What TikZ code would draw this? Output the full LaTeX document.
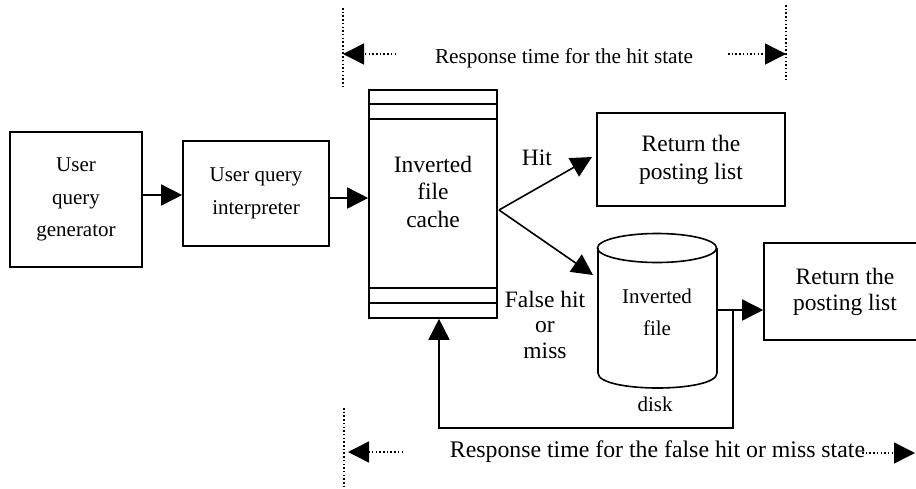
\documentclass[tikz,border=0pt]{standalone}
\usepackage{fontspec}
\setmainfont{Liberation Serif}
\usetikzlibrary{arrows.meta,calc}
\begin{document}
\begin{tikzpicture}[x=1pt,y=-1pt,line width=1.6pt,
  box/.style={draw,rectangle,inner sep=0pt,align=center},
  arr/.style={-{Triangle[length=21pt,width=21pt]}},
  dotl/.style={line width=1.5pt,dash pattern=on 1.5pt off 2.2pt},
  big/.style={font=\fontsize{23.5}{27.5}\selectfont},
  small/.style={font=\fontsize{21}{32.5}\selectfont},
  txt/.style={inner sep=0pt,align=center}]
\useasboundingbox (0,0) rectangle (916,488);
% boxes
\node[box,small,minimum width=132pt,minimum height=135pt] (gen) at (76,199.5) {User\\query\\generator};
\node[box,small,minimum width=146pt,minimum height=105pt] (interp) at (256,193.5) {User query\\interpreter};
\node[box,minimum width=128pt,minimum height=228pt] (cache) at (433,204) {};
\node[txt,big] (cachetxt) at (433,191.5) {Inverted\\file\\cache};
\draw (cache.west |- 0,104) -- (cache.east |- 0,104);
\draw (cache.west |- 0,119) -- (cache.east |- 0,119);
\draw (cache.west |- 0,288) -- (cache.east |- 0,288);
\draw (cache.west |- 0,303) -- (cache.east |- 0,303);
\node[box,font=\fontsize{23.5}{28}\selectfont,minimum width=188pt,minimum height=93pt] (ret1) at (691,159.5) {Return the\\posting list};
\begin{scope}
\clip (0,0) rectangle (916,488);
\node[box,font=\fontsize{23.5}{26}\selectfont,minimum width=162pt,minimum height=97pt] (ret2) at (845,291.5) {Return the\\posting list};
\end{scope}
% cylinder
\draw (657,248) ellipse [x radius=59.5,y radius=14.5];
\draw (598,248) -- (598,373) .. controls (598,393) and (717,393) .. (717,373) -- (717,248);
\node[txt,font=\fontsize{21}{32}\selectfont] (cyl) at (657,312) {Inverted\\file};
\node[txt,font=\fontsize{21}{25}\selectfont,anchor=base] (disk) at (655,411) {disk};
\coordinate (cylin) at (593,275);
\coordinate (cylout) at (717,310);
% labels
\node[txt,big,anchor=base] (hit) at (537,165) {Hit};
\node[txt,font=\fontsize{23.5}{25.5}\selectfont] (miss) at (545,324.5) {False hit\\or\\miss};
% connectors
\draw[arr] (gen.east |- 0,195) -- (interp.west |- 0,195);
\draw[arr] (interp.east |- 0,198) -- (cache.west |- 0,198);
\coordinate (split) at (499,210);
\coordinate (ret1in) at (592,157);
\draw[arr] (split) -- (ret1in);
\draw[arr] (split) -- (cylin);
\draw[arr] (cylout) -- (cylout -| ret2.west);
\coordinate (fb1) at (733,310);
\coordinate (fb2) at (733,428);
\coordinate (fb3) at (439,428);
\draw[arr] (fb1) -- (fb2) -- (fb3) -- (fb3 |- cache.south);
% top response time
\coordinate (tl1) at (343,8); \coordinate (tl2) at (343,87);
\coordinate (tr1) at (786,5); \coordinate (tr2) at (786,80);
\draw[dotl] (tl1) -- (tl2);
\draw[dotl] (tr1) -- (tr2);
\coordinate (tla) at (396,54); \coordinate (tlb) at (343,54);
\coordinate (tra) at (728,54); \coordinate (trb) at (786,54);
\draw[dotl,arr] (tla) -- (tlb);
\draw[dotl,arr] (tra) -- (trb);
\node[txt,font=\fontsize{21.25}{25}\selectfont,anchor=base] (toptxt) at (564,63) {Response time for the hit state};
% bottom response time
\coordinate (bl1) at (344,408); \coordinate (bl2) at (344,488);
\draw[dotl] (bl1) -- (bl2);
\coordinate (bla) at (403,452); \coordinate (blb) at (348,452);
\coordinate (bra) at (862,453); \coordinate (brb) at (915,453);
\draw[dotl,arr] (bla) -- (blb);
\draw[dotl,arr] (bra) -- (brb);
\node[txt,font=\fontsize{23.8}{26}\selectfont,anchor=base] (bottxt) at (657.5,457) {Response time for the false hit or miss state};
\end{tikzpicture}
\end{document}
